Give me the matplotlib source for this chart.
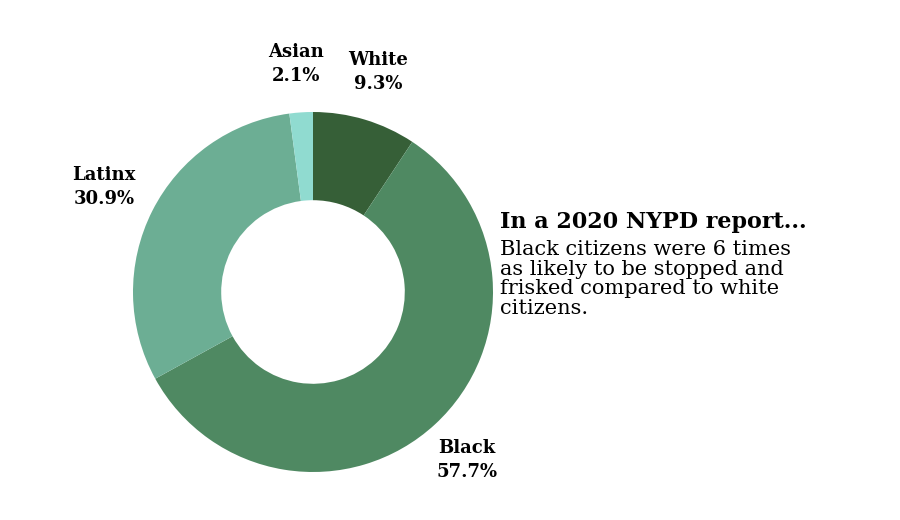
import matplotlib.pyplot as plt

labels = ["White", "Black", "Latinx", "Asian"]
shares = [9.3, 57.7, 30.9, 2.1]
colors = ["#365f37", "#4f8962", "#6cae94", "#90dbd0"]
# label anchor positions in figure pixels (x, y from top)
label_pos = [(378, 72), (467, 460), (104, 187), (296, 64)]

W, H = 900, 520
plt.rcParams["font.family"] = "DejaVu Serif"
fig = plt.figure(figsize=(9, 5.2), dpi=100)
cx, cy, r = 313, 292, 180
ax = fig.add_axes([(cx - r) / W, (H - cy - r) / H, 2 * r / W, 2 * r / H])
ax.pie(shares, colors=colors, startangle=90, counterclock=False,
       wedgeprops=dict(width=0.49, linewidth=0))
ax.set_xlim(-1, 1)
ax.set_ylim(-1, 1)
ax.set_aspect("equal")

for lab, val, (x, y) in zip(labels, shares, label_pos):
    fig.text(x / W, 1 - y / H, f"{lab}\n{val}%", ha="center", va="center",
             fontsize=13, fontweight="bold", linespacing=1.4)

fig.text(500 / W, 1 - 222 / H, "In a 2020 NYPD report...", ha="left", va="center",
         fontsize=16, fontweight="bold")
fig.text(500 / W, 1 - 240 / H,
         "Black citizens were 6 times\nas likely to be stopped and\nfrisked compared to white\ncitizens.",
         ha="left", va="top", fontsize=15, linespacing=1.05)

fig.savefig("out.png", dpi=100)
